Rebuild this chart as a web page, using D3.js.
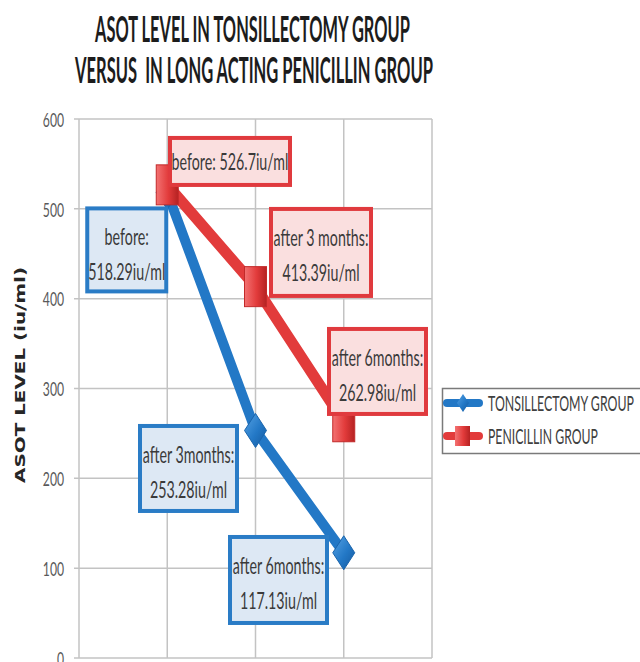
<!DOCTYPE html>
<html>
<head>
<meta charset="utf-8">
<script src="https://cdn.jsdelivr.net/npm/d3@7"></script>
<style>
  html, body { margin: 0; padding: 0; background: #fff; overflow: hidden; }
  text { font-family: Lato, "Open Sans", sans-serif; }
</style>
</head>
<body>
<svg id="chart" width="640" height="662"></svg>
<script>
// ---- data ----
const categories = ["before", "after 3 months", "after 6 months"];
const tonsillectomy = [518.29, 253.28, 117.13];
const penicillin = [526.7, 413.39, 262.98];
const tonsPrefix = ["before:", "after 3months:", "after 6months:"];
const penPrefix = ["before: ", "after 3 months:", "after 6months:"];
const yTicks = [0, 100, 200, 300, 400, 500, 600];
const seriesNames = ["TONSILLECTOMY GROUP", "PENICILLIN GROUP"];
const titleLines = ["ASOT LEVEL IN TONSILLECTOMY GROUP", "VERSUS  IN LONG ACTING PENICILLIN GROUP"];
const yTitle = "ASOT LEVEL (iu/ml)";

// ---- layout ----
const plot = { left: 79, right: 432, top: 119, bottom: 658 };
const colors = {
  blue: "#2378c6", blueFill: "#dde8f4", blueBorder: "#2a7cc6",
  red: "#e23b3b", redFill: "#fadfdf", redBorder: "#e03a3e",
  grid: "#c3c3c3", tick: "#595959", text: "#3a3a3a"
};
// callout boxes: offset of the top-left corner from the marker, size, one or two lines
const tonsBoxes = [
  { dx: -82, dy: 14, w: 83, h: 87, twoLines: true },
  { dx: -117.5, dy: -6.5, w: 101, h: 89, twoLines: true },
  { dx: -115.75, dy: -17.8, w: 101, h: 90, twoLines: true }
];
const penBoxes = [
  { dx: 0.75, dy: -48.9, w: 124, h: 51, twoLines: false },
  { dx: 13.5, dy: -79.7, w: 104, h: 91, twoLines: true },
  { dx: -16.75, dy: -94.8, w: 101, h: 89, twoLines: true }
];

const svg = d3.select("#chart");
const defs = svg.append("defs");

const redGrad = defs.append("linearGradient").attr("id", "redMark").attr("x1", 0).attr("x2", 1).attr("y1", 0).attr("y2", 0);
redGrad.append("stop").attr("offset", "0%").attr("stop-color", "#f37272");
redGrad.append("stop").attr("offset", "55%").attr("stop-color", "#e23b3b");
redGrad.append("stop").attr("offset", "100%").attr("stop-color", "#b52222");
const blueGrad = defs.append("linearGradient").attr("id", "blueMark").attr("x1", 0).attr("x2", 1).attr("y1", 0).attr("y2", 1);
blueGrad.append("stop").attr("offset", "0%").attr("stop-color", "#56a2e4");
blueGrad.append("stop").attr("offset", "55%").attr("stop-color", "#2378c6");
blueGrad.append("stop").attr("offset", "100%").attr("stop-color", "#15599e");

const x = d3.scaleLinear().domain([0, categories.length + 1]).range([plot.left, plot.right]);
const y = d3.scaleLinear().domain([0, 600]).range([plot.bottom, plot.top]);

// narrow a text horizontally: by factor k, or to an exact width when given
function condense(sel, k, width) {
  sel.each(function (d, i) {
    const t = d3.select(this);
    const px = +t.attr("x") || 0, py = +t.attr("y") || 0;
    const w = this.getComputedTextLength();
    const target = typeof width === "function" ? width(d, i) : (width || w * k);
    t.attr("x", 0).attr("y", 0)
      .attr("transform", `translate(${px},${py}) scale(${target / w},1)`);
  });
}

// ---- gridlines ----
const g = svg.append("g");
g.selectAll(".hgrid").data(yTicks).join("line")
  .attr("x1", plot.left - 5).attr("x2", plot.right)
  .attr("y1", d => y(d)).attr("y2", d => y(d))
  .attr("stroke", colors.grid).attr("stroke-width", 1.5);
g.selectAll(".vgrid").data(d3.range(categories.length + 2)).join("line")
  .attr("x1", d => x(d)).attr("x2", d => x(d))
  .attr("y1", plot.top).attr("y2", plot.bottom)
  .attr("stroke", colors.grid).attr("stroke-width", 1.5);

// ---- y axis tick labels ----
g.selectAll(".ytick").data(yTicks).join("text")
  .attr("x", 64).attr("y", d => y(d))
  .attr("text-anchor", "end").attr("dominant-baseline", "central")
  .attr("font-size", 19).attr("fill", colors.tick)
  .text(d => d)
  .call(condense, 0.64);

// ---- y axis title ----
svg.append("text")
  .attr("transform", "translate(25,375) rotate(-90)")
  .attr("text-anchor", "middle")
  .style("font-family", "'DejaVu Sans', sans-serif")
  .attr("font-weight", "bold").attr("font-size", 14).attr("fill", "#262626")
  .attr("textLength", 216).attr("lengthAdjust", "spacingAndGlyphs")
  .text(yTitle);

// ---- chart title ----
const titleBox = [{ x: 95, y: 42, w: 315 }, { x: 75, y: 83, w: 358 }];
svg.selectAll(".title").data(titleLines).join("text")
  .attr("x", (d, i) => titleBox[i].x).attr("y", (d, i) => titleBox[i].y)
  .attr("font-size", 37).attr("font-weight", "bold").attr("fill", "#1c1c1c")
  .style("white-space", "pre")
  .text(d => d)
  .call(condense, 1, (d, i) => titleBox[i].w);

// ---- series ----
const line = d3.line().x((d, i) => x(i + 1)).y(d => y(d));
const diamond = (cx, cy, w, h) => `M${cx},${cy - h / 2}L${cx + w / 2},${cy}L${cx},${cy + h / 2}L${cx - w / 2},${cy}Z`;

svg.append("path").datum(tonsillectomy).attr("d", line)
  .attr("fill", "none").attr("stroke", colors.blue).attr("stroke-width", 10).attr("stroke-linejoin", "round");
svg.selectAll(".bmark").data(tonsillectomy).join("path")
  .attr("d", (d, i) => diamond(x(i + 1), y(d), 22, 34))
  .attr("fill", "url(#blueMark)").attr("stroke", "#1a64ab").attr("stroke-width", 1);

svg.append("path").datum(penicillin).attr("d", line)
  .attr("fill", "none").attr("stroke", colors.red).attr("stroke-width", 11).attr("stroke-linejoin", "round");
svg.selectAll(".rmark").data(penicillin).join("rect")
  .attr("x", (d, i) => x(i + 1) - 11).attr("y", d => y(d) - 20)
  .attr("width", 22).attr("height", 40)
  .attr("fill", "url(#redMark)").attr("stroke", "#c22a2a").attr("stroke-width", 1);

// ---- callout labels ----
function callouts(values, prefixes, boxes, fill, border) {
  values.forEach((v, i) => {
    const b = boxes[i];
    const bx = x(i + 1) + b.dx, by = y(v) + b.dy;
    const grp = svg.append("g");
    grp.append("rect")
      .attr("x", bx + 2).attr("y", by + 2).attr("width", b.w - 4).attr("height", b.h - 4)
      .attr("fill", fill).attr("stroke", border).attr("stroke-width", 4);
    const cx = bx + b.w / 2;
    const lines = b.twoLines ? [prefixes[i], `${v}iu/ml`] : [`${prefixes[i]}${v}iu/ml`];
    const ys = b.twoLines ? [by + 30, by + 65] : [by + b.h / 2];
    grp.selectAll("text").data(lines).join("text")
      .attr("x", cx).attr("y", (d, j) => ys[j])
      .attr("text-anchor", "middle").attr("dominant-baseline", "central")
      .attr("font-size", 23).attr("fill", colors.text)
      .style("white-space", "pre")
      .text(d => d)
      .call(condense, 0.62);
  });
}
callouts(tonsillectomy, tonsPrefix, tonsBoxes, colors.blueFill, colors.blueBorder);
callouts(penicillin, penPrefix, penBoxes, colors.redFill, colors.redBorder);

// ---- legend ----
const lg = svg.append("g");
lg.append("rect").attr("x", 442.5).attr("y", 388.5).attr("width", 220).attr("height", 65)
  .attr("fill", "#fff").attr("stroke", "#7a7a7a").attr("stroke-width", 1.5);
const legendY = [403, 436];
const legendTextWidth = [146, 110];
seriesNames.forEach((name, i) => {
  const ly = legendY[i];
  lg.append("line").attr("x1", 447).attr("x2", 479).attr("y1", ly).attr("y2", ly)
    .attr("stroke", i === 0 ? colors.blue : colors.red).attr("stroke-width", 8).attr("stroke-linecap", "round");
  if (i === 0) {
    lg.append("path").attr("d", diamond(463, ly, 12, 18)).attr("fill", "url(#blueMark)");
  } else {
    lg.append("rect").attr("x", 455).attr("y", ly - 10).attr("width", 15).attr("height", 20).attr("fill", "url(#redMark)");
  }
  lg.append("text").attr("x", 488).attr("y", ly)
    .attr("dominant-baseline", "central").attr("font-size", 21).attr("fill", "#404040")
    .text(name)
    .call(condense, 1, legendTextWidth[i]);
});
</script>
</body>
</html>
